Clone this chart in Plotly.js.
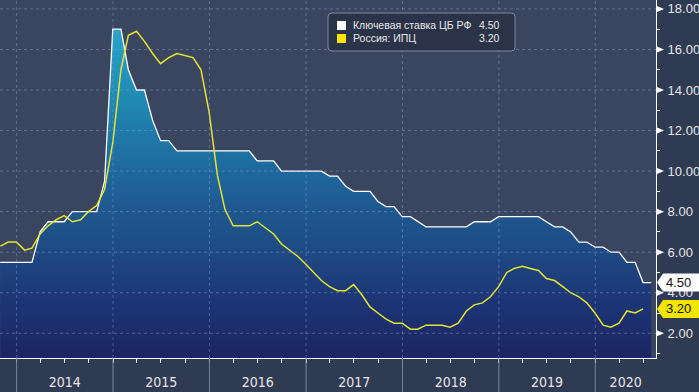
<!DOCTYPE html>
<html>
<head>
<meta charset="utf-8">
<script src="https://cdn.plot.ly/plotly-3.0.1.min.js"></script>
<style>html,body{margin:0;padding:0;background:#2f3a53;}#chart{width:699px;height:392px;}</style>
</head>
<body>
<div id="chart"></div>
<script>
// ---- data (monthly, end of month) ----
const months = [
 '2013-10','2013-11','2013-12',
 '2014-01','2014-02','2014-03','2014-04','2014-05','2014-06','2014-07','2014-08','2014-09','2014-10','2014-11','2014-12',
 '2015-01','2015-02','2015-03','2015-04','2015-05','2015-06','2015-07','2015-08','2015-09','2015-10','2015-11','2015-12',
 '2016-01','2016-02','2016-03','2016-04','2016-05','2016-06','2016-07','2016-08','2016-09','2016-10','2016-11','2016-12',
 '2017-01','2017-02','2017-03','2017-04','2017-05','2017-06','2017-07','2017-08','2017-09','2017-10','2017-11','2017-12',
 '2018-01','2018-02','2018-03','2018-04','2018-05','2018-06','2018-07','2018-08','2018-09','2018-10','2018-11','2018-12',
 '2019-01','2019-02','2019-03','2019-04','2019-05','2019-06','2019-07','2019-08','2019-09','2019-10','2019-11','2019-12',
 '2020-01','2020-02','2020-03','2020-04','2020-05','2020-06','2020-07'
];
const keyRate = [
 5.5,5.5,5.5,
 5.5,5.5,7.0,7.5,7.5,7.5,8.0,8.0,8.0,8.0,9.5,17.0,
 17.0,15.0,14.0,14.0,12.5,11.5,11.5,11.0,11.0,11.0,11.0,11.0,
 11.0,11.0,11.0,11.0,11.0,10.5,10.5,10.5,10.0,10.0,10.0,10.0,
 10.0,10.0,9.75,9.75,9.25,9.0,9.0,9.0,8.5,8.25,8.25,7.75,
 7.75,7.5,7.25,7.25,7.25,7.25,7.25,7.25,7.5,7.5,7.5,7.75,
 7.75,7.75,7.75,7.75,7.75,7.5,7.25,7.25,7.0,6.5,6.5,6.25,
 6.25,6.0,6.0,5.5,5.5,4.5,4.5
];
const cpi = [
 6.3,6.5,6.5,
 6.1,6.2,6.9,7.3,7.6,7.8,7.5,7.6,8.0,8.3,9.1,11.4,
 15.0,16.7,16.9,16.4,15.8,15.3,15.6,15.8,15.7,15.6,15.0,12.9,
 9.8,8.1,7.3,7.3,7.3,7.5,7.2,6.9,6.4,6.1,5.8,5.4,
 5.0,4.6,4.3,4.1,4.1,4.4,3.9,3.3,3.0,2.7,2.5,2.5,
 2.2,2.2,2.4,2.4,2.4,2.3,2.5,3.1,3.4,3.5,3.8,4.3,
 5.0,5.2,5.3,5.2,5.1,4.7,4.6,4.3,4.0,3.8,3.5,3.0,
 2.4,2.3,2.5,3.1,3.0,3.2
];
const seriesNames = ['Ключевая ставка ЦБ РФ', 'Россия: ИПЦ'];
const years = [2014,2015,2016,2017,2018,2019,2020];
const yTicks = [2,4,6,8,10,12,14,16,18];
const yMinor = [1,3,5,7,9,11,13,15,17];

// ---- helpers ----
function monthEnd(m){
  const [y,mo] = m.split('-').map(Number);
  const d = new Date(Date.UTC(y, mo, 0));
  return d.toISOString().slice(0,10);
}
function fmt(ms){ return new Date(ms).toISOString().slice(0,19).replace('T',' '); }
const xKey = months.map(monthEnd);
const xCpi = xKey.slice(0, cpi.length);

const xRange = ['2013-10-30','2020-08-18'];
const yRange = [0.78, 18.44];
const PW = 656, PH = 358; // plot area size in px

const rangeEnd = Date.parse(xRange[1]+'T00:00:00Z');
const tickVals = years.map(y => {
  const a = Date.UTC(y,0,1);
  const b = Math.min(Date.UTC(y+1,0,1), rangeEnd);
  return fmt((a+b)/2);
});

const FONT = 'Liberation Sans, Arial, sans-serif';
const NARROW = 'Liberation Sans Narrow, Arial Narrow, DejaVu Sans Condensed, Liberation Sans, sans-serif';
const gridColor = 'rgba(140,160,205,0.45)';
const yellow = '#e4e432';

const traces = [
  {
    x: xKey, y: keyRate, type: 'scatter', mode: 'lines', name: seriesNames[0],
    line: {color: '#ffffff', width: 1.3},
    fill: 'tozeroy',
    fillgradient: {
      type: 'vertical',
      colorscale: [
        [0.00, '#1b2461'],
        [0.07, '#1c2766'],
        [0.21, '#1d3575'],
        [0.38, '#1e4d86'],
        [0.50, '#1f5b92'],
        [0.65, '#1f72a3'],
        [0.79, '#2088b4'],
        [0.97, '#27a0c5'],
        [1.00, '#29a4c8']
      ]
    },
    hoverinfo: 'skip'
  },
  {
    x: xCpi, y: cpi, type: 'scatter', mode: 'lines', name: seriesNames[1],
    line: {color: yellow, width: 1.5},
    hoverinfo: 'skip'
  }
];

const shapes = [];
const annotations = [];

// dotted grid (drawn over the area fill)
yTicks.forEach(v => shapes.push({type:'line', xref:'paper', yref:'y', x0:0, x1:1, y0:v, y1:v,
  line:{color:gridColor, width:1, dash:'3px,3px'}, layer:'above'}));
years.forEach(y => {
  const x = y + '-01-01';
  shapes.push({type:'line', xref:'x', yref:'paper', x0:x, x1:x, y0:0, y1:1,
    line:{color:gridColor, width:1, dash:'3px,3px'}, layer:'above'});
  shapes.push({type:'line', xref:'x', yref:'paper', x0:x, x1:x, y0:0, y1:-34/PH,
    line:{color:'#7c8598', width:1}, layer:'above'});
});

// arrow tick markers on right axis
yTicks.forEach(v => shapes.push({type:'path', xref:'paper', yref:'y', xsizemode:'pixel', ysizemode:'pixel',
  xanchor:1, yanchor:v, path:'M1,3 L8,0 L1,-3 Z', fillcolor:'#ffffff', line:{width:0}, layer:'above'}));

// legend box
shapes.push({type:'path', xref:'paper', yref:'paper', xsizemode:'pixel', ysizemode:'pixel', xanchor:0, yanchor:1,
  path:'M332,-13 L511,-13 Q515,-13 515,-17 L515,-47 Q515,-51 511,-51 L332,-51 Q328,-51 328,-47 L328,-17 Q328,-13 332,-13 Z',
  fillcolor:'#2b3349', line:{color:'#7d8799', width:1}, layer:'above'});
const legendRows = [{name:seriesNames[0], val:keyRate[keyRate.length-1], col:'#ffffff', cy:25.5},
                    {name:seriesNames[1], val:cpi[cpi.length-1], col:'#ffe600', cy:38.5}];
legendRows.forEach(r => {
  shapes.push({type:'path', xref:'paper', yref:'paper', xsizemode:'pixel', ysizemode:'pixel', xanchor:0, yanchor:1,
    path:`M337,${-(r.cy-4.5)} L346,${-(r.cy-4.5)} L346,${-(r.cy+4.5)} L337,${-(r.cy+4.5)} Z`,
    fillcolor:r.col, line:{width:0}, layer:'above'});
  annotations.push({xref:'paper', yref:'paper', x:351/PW, y:1-r.cy/PH, xanchor:'left', yanchor:'middle',
    text:r.name, showarrow:false, font:{family:FONT, size:10.5, color:'#e8e8e8'}});
  annotations.push({xref:'paper', yref:'paper', x:502/PW, y:1-r.cy/PH, xanchor:'right', yanchor:'middle',
    text:r.val.toFixed(2), showarrow:false, font:{family:FONT, size:10.5, color:'#e8e8e8'}});
});

// value tags on the right axis
const tags = [{v:keyRate[keyRate.length-1], fill:'#ffffff'}, {v:cpi[cpi.length-1], fill:'#f2e600'}];
tags.forEach(t => {
  shapes.push({type:'path', xref:'paper', yref:'y', xsizemode:'pixel', ysizemode:'pixel', xanchor:1, yanchor:t.v,
    path:'M1,0 L7,9 L50,9 L50,-9 L7,-9 Z', fillcolor:t.fill, line:{width:0}, layer:'above'});
  annotations.push({xref:'paper', yref:'y', x:1+8/PW, y:t.v, xanchor:'left', yanchor:'middle',
    text:t.v.toFixed(2), showarrow:false, font:{family:FONT, size:13, color:'#111111'}});
});

const layout = {
  width: 699, height: 392,
  margin: {l:0, r:43, t:0, b:34, pad:0},
  paper_bgcolor: '#2f3a53',
  plot_bgcolor: '#3a4560',
  showlegend: false,
  xaxis: {
    type:'date', range:xRange, fixedrange:true,
    tickmode:'array', tickvals:tickVals, ticktext:years.map(String),
    ticks:'', showgrid:false, zeroline:false,
    showline:true, linecolor:'#ffffff', linewidth:1,
    tickfont:{family:NARROW, size:14, color:'#e6e6e6'},
    ticklabelstandoff: 11,
    minor:{tickmode:'linear', tick0:'2014-01-01', dtick:'M3', ticks:'outside', ticklen:4, tickcolor:'#ffffff', tickwidth:1, showgrid:false}
  },
  yaxis: {
    side:'right', range:yRange, fixedrange:true,
    tickmode:'array', tickvals:yTicks, ticktext:yTicks.map(v=>v.toFixed(2)),
    ticks:'outside', ticklen:5, tickcolor:'#ffffff', tickwidth:1,
    showgrid:false, zeroline:false,
    showline:true, linecolor:'#ffffff', linewidth:1,
    tickfont:{family:FONT, size:13, color:'#e6e6e6'},
    ticklabelstandoff: 3,
    minor:{tickmode:'array', tickvals:yMinor, ticks:'outside', ticklen:3, tickcolor:'#ffffff', showgrid:false}
  },
  shapes: shapes,
  annotations: annotations
};

Plotly.newPlot('chart', traces, layout, {staticPlot:true, displayModeBar:false});
</script>
</body>
</html>
